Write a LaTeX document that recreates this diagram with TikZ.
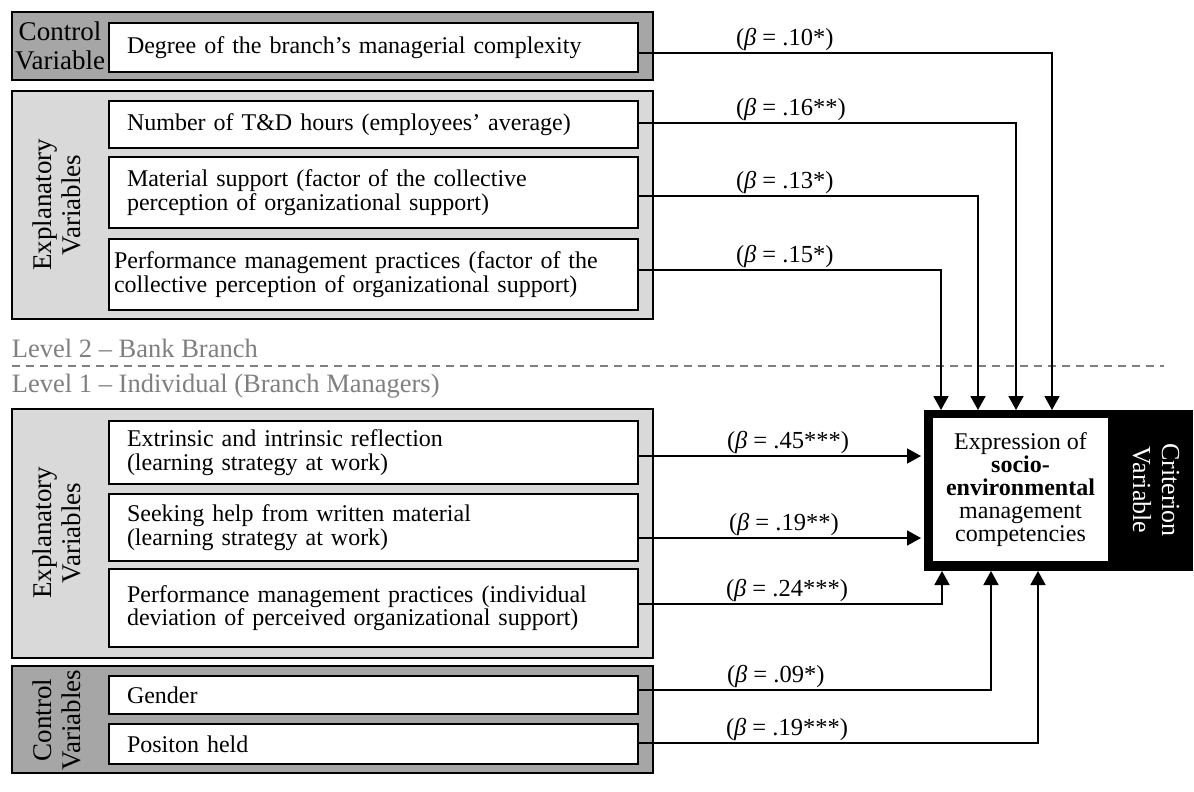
\documentclass[tikz,border=0pt]{standalone}
\usepackage{fontspec}
\setmainfont{Liberation Serif}
\usetikzlibrary{arrows.meta}
\definecolor{darkfr}{HTML}{A6A6A6}
\definecolor{lightfr}{HTML}{D9D9D9}
\definecolor{levelgray}{HTML}{7F7F7F}
\begin{document}
\begin{tikzpicture}[x=1pt,y=-1pt,
  every node/.style={inner sep=0pt,outer sep=0pt},
  darkframe/.style={draw=black,fill=darkfr,line width=2pt,minimum width=641pt},
  lightframe/.style={draw=black,fill=lightfr,line width=2pt,minimum width=641pt},
  inbox/.style={draw=black,fill=white,line width=2pt,minimum width=529pt,
    inner xsep=18pt,text width=493pt,align=left,
    font=\fontsize{24}{23.5}\selectfont},
  side/.style={align=center,font=\fontsize{27}{29}\selectfont},
  lab/.style={font=\fontsize{24.5}{26}\selectfont,anchor=south west},
  lvl/.style={text=levelgray,font=\fontsize{26.5}{28}\selectfont,anchor=base west},
  conn/.style={line width=1.8pt,-{Triangle[length=14pt,width=15pt]}},
]
\useasboundingbox (0,0) rectangle (1194,792);

% frames
\node[darkframe,minimum height=68pt] (f1) at (332.5,46) {};
\node[lightframe,minimum height=228pt] (f2) at (332.5,205) {};
\node[lightframe,minimum height=249pt] (f3) at (332.5,533.5) {};
\node[darkframe,minimum height=107pt] (f4) at (332.5,719.5) {};

% side labels
\node[side] (s1) at (60,46) {Control\\Variable};
\node[side,rotate=90] (s2) at (57,205) {Explanatory\\Variables};
\node[side,rotate=90] (s3) at (57,533) {Explanatory\\Variables};
\node[side,rotate=90] (s4) at (57,720) {Control\\Variables};

% inner boxes
\node[inbox,minimum height=49pt] (b1) at (373.5,47.5) {Degree of the branch’s managerial complexity};
\node[inbox,minimum height=47pt] (b2) at (373.5,124.5) {Number of T\&D hours (employees’ average)};
\node[inbox,minimum height=71pt] (b3) at (373.5,192.5) {Material support (factor of the collective\\perception of organizational support)};
\node[inbox,minimum height=71pt,inner xsep=5pt,text width=519pt] (b4) at (373.5,274.5) {Performance management practices (factor of the\\collective perception of organizational support)};
\node[inbox,minimum height=63pt] (b5) at (373.5,452.5) {Extrinsic and intrinsic reflection\\(learning strategy at work)};
\node[inbox,minimum height=67pt] (b6) at (373.5,527.5) {Seeking help from written material\\(learning strategy at work)};
\node[inbox,minimum height=78pt] (b7) at (373.5,608) {Performance management practices (individual\\deviation of perceived organizational support)};
\node[inbox,minimum height=38pt] (b8) at (373.5,695) {Gender};
\node[inbox,minimum height=40pt] (b9) at (373.5,744) {Positon held};

% level labels and divider
\node[lvl] (lv2) at (12,357) {Level 2 – Bank Branch};
\node[lvl] (lv1) at (12,392) {Level 1 – Individual (Branch Managers)};
\coordinate (dl) at (12,366);
\coordinate (dr) at (1164,366);
\draw[levelgray,line width=1.5pt,dash pattern=on 8pt off 6pt] (dl) -- (dr);

% criterion
\node[fill=black,minimum width=269pt,minimum height=161pt] (crit) at (1058.5,490.5) {};
\node[fill=white,minimum width=175pt,minimum height=143pt,align=center,
  font=\fontsize{24}{23}\selectfont] (critin) at (1020.5,489.5)
  {Expression of\\\textbf{socio-}\\\textbf{environmental}\\management\\competencies};
\node[side,rotate=-90,text=white,font=\fontsize{26}{29}\selectfont] (cv) at (1156,490) {Criterion\\Variable};

% connection start points
\coordinate (p1) at ([yshift=-5.5pt]b1.east);
\coordinate (p2) at ([yshift=1.5pt]b2.east);
\coordinate (p3) at ([yshift=-3.5pt]b3.east);
\coordinate (p4) at ([yshift=4.5pt]b4.east);
\coordinate (p5) at ([yshift=-3.5pt]b5.east);
\coordinate (p6) at ([yshift=-10.5pt]b6.east);
\coordinate (p7) at ([yshift=4pt]b7.east);
\coordinate (p8) at ([yshift=5pt]b8.east);
\coordinate (p9) at ([yshift=1pt]b9.east);

% connectors level 2 (into top)
\draw[conn] (p1) -| ([xshift=128pt]crit.north west);
\draw[conn] (p2) -| ([xshift=92pt]crit.north west);
\draw[conn] (p3) -| ([xshift=54pt]crit.north west);
\draw[conn] (p4) -| ([xshift=17pt]crit.north west);
% level 1 horizontal
\draw[conn,shorten >=3pt] (p5) -- (p5 -| crit.west);
\draw[conn,shorten >=3pt] (p6) -- (p6 -| crit.west);
% into bottom
\draw[conn] (p7) -| ([xshift=18pt]crit.south west);
\draw[conn] (p8) -| ([xshift=67pt]crit.south west);
\draw[conn] (p9) -| ([xshift=114pt]crit.south west);

% beta labels
\node[lab] (l1) at (736,51) {(\textit{β} = .10*)};
\node[lab] (l2) at (736,121) {(\textit{β} = .16**)};
\node[lab] (l3) at (736,194) {(\textit{β} = .13*)};
\node[lab] (l4) at (736,268) {(\textit{β} = .15*)};
\node[lab] (l5) at (727,454) {(\textit{β} = .45***)};
\node[lab] (l6) at (729,536) {(\textit{β} = .19**)};
\node[lab] (l7) at (726,602) {(\textit{β} = .24***)};
\node[lab] (l8) at (727,688) {(\textit{β} = .09*)};
\node[lab] (l9) at (726,741) {(\textit{β} = .19***)};
\end{tikzpicture}
\end{document}
